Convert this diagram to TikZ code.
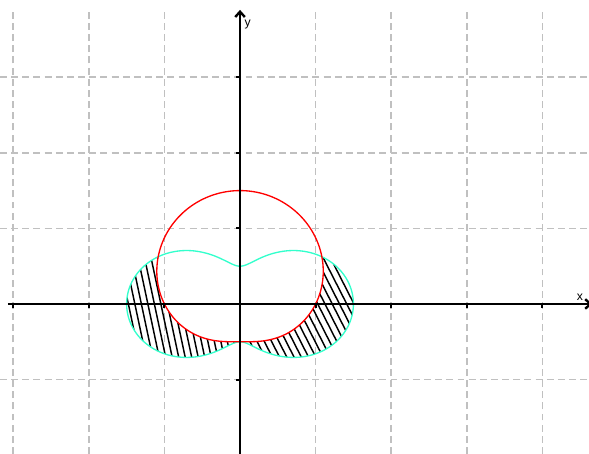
\documentclass[tikz,border=0pt]{standalone}
\usepackage{fontspec}
\setsansfont{Liberation Sans}
\usetikzlibrary{arrows.meta}
\definecolor{curvecyan}{RGB}{51,255,204}
\definecolor{gridgray}{RGB}{192,192,192}

\begin{document}
\begin{tikzpicture}[x=1cm,y=1cm,
    gridline/.style={gridgray,line width=0.55pt,dash pattern=on 2.6pt off 1.6pt},
    axisline/.style={line width=1pt,-{Straight Barb[length=2pt,width=3.6pt,line width=0.9pt]}},
    hatchline/.style={line width=0.55pt},
    axislabel/.style={font=\sffamily\fontsize{4.6}{5}\selectfont,inner sep=0pt}]
  \useasboundingbox (-3.175,-1.984) rectangle (4.616,4.021);
  % grid
  \foreach \g in {-3,-2,-1,1,2,3,4} \draw[gridline] (\g,-1.984) -- (\g,3.90);
  \foreach \g in {-1,1,2,3} \draw[gridline] (-3.175,\g) -- (4.616,\g);
  % hatching, left part
  \begin{scope}
    \clip plot[domain=150:270,samples=90] (\x:{1+0.5*cos(2*\x)})
      -- plot[domain=270:150,samples=90] (\x:{1+0.5*sin(\x)}) -- cycle;
    \foreach \i in {-3,...,16}
      \draw[hatchline] ({-1.477+0.086*\i-0.2126},1) -- ({-1.477+0.086*\i+0.2126},-1);
  \end{scope}
  % hatching, right part
  \begin{scope}
    \clip plot[domain=-90:30,samples=90] (\x:{1+0.5*cos(2*\x)})
      -- plot[domain=30:-90,samples=90] (\x:{1+0.5*sin(\x)}) -- cycle;
    \foreach \i in {-14,...,10}
      \draw[hatchline] ({1.028+0.0959*\i-0.5095},1) -- ({1.028+0.0959*\i+0.5095},-1);
  \end{scope}
  % curves
  \draw[curvecyan,line width=0.5pt,smooth,samples=240,domain=0:360] plot (\x:{1+0.5*cos(2*\x)});
  \draw[red,line width=0.5pt,smooth,samples=240,domain=0:360] plot (\x:{1+0.5*sin(\x)});
  % axes
  \coordinate (xs) at (-3.07,0);
  \coordinate (xe) at (4.66,0);
  \coordinate (ys) at (0,-1.984);
  \coordinate (ye) at (0,3.89);
  \draw[axisline] (xs) -- (xe);
  \draw[axisline] (ys) -- (ye);
  \foreach \g in {-3,-2,-1,1,2,3,4} \draw[line width=0.7pt] (\g,0) -- (\g,-0.055);
  \foreach \g in {-1,1,2,3} \draw[line width=0.7pt] (0,\g) -- (-0.055,\g);
  \node[axislabel] (xlab) at (4.497,0.085) {x};
  \node[axislabel] (ylab) at (0.10,3.69) {y};
\end{tikzpicture}
\end{document}
